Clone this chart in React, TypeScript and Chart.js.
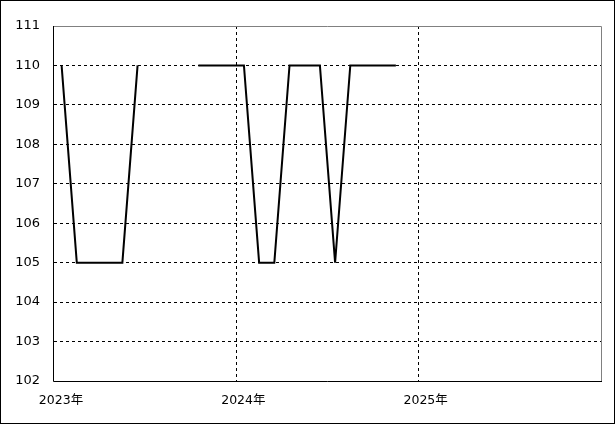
import React, { useEffect, useRef } from "react";
import { Chart, registerables } from "chart.js";

Chart.register(...registerables);

const months = [
  "2023-01", "2023-02", "2023-03", "2023-04", "2023-05", "2023-06",
  "2023-07", "2023-08", "2023-09", "2023-10", "2023-11", "2023-12",
  "2024-01", "2024-02", "2024-03", "2024-04", "2024-05", "2024-06",
  "2024-07", "2024-08", "2024-09", "2024-10", "2024-11",
];
const values: (number | null)[] = [
  110, 105, 105, 105, 105, 110,
  null, null, null, 110, 110, 110,
  110, 105, 105, 110, 110, 110,
  105, 110, 110, 110, 110,
];
const yearLabels = ["2023年", "2024年", "2025年"];
const yTicks = [102, 103, 104, 105, 106, 107, 108, 109, 110, 111];

const FONT = "'DejaVu Sans', 'Noto Sans CJK JP', sans-serif";

function monthIndex(m: string): number {
  const [y, mo] = m.split("-").map(Number);
  return (y - 2023) * 12 + (mo - 1) + 0.5;
}

const framePlugin = {
  id: "frame",
  afterDraw(chart: any) {
    const { ctx, chartArea, width, height } = chart;
    const { left, top, right, bottom } = chartArea;
    ctx.save();
    ctx.lineWidth = 1;
    ctx.setLineDash([]);
    ctx.strokeStyle = "#808080";
    ctx.beginPath();
    ctx.moveTo(left - 1, top + 0.5);
    ctx.lineTo(right + 0.5, top + 0.5);
    ctx.lineTo(right + 0.5, bottom);
    ctx.stroke();
    ctx.strokeStyle = "#000";
    ctx.beginPath();
    ctx.moveTo(left - 0.5, top);
    ctx.lineTo(left - 0.5, bottom + 0.5);
    ctx.lineTo(right + 1, bottom + 0.5);
    ctx.stroke();
    ctx.strokeRect(0.5, 0.5, width - 1, height - 1);
    ctx.restore();
  },
};

export default function App() {
  const ref = useRef<HTMLCanvasElement | null>(null);
  useEffect(() => {
    document.body.style.margin = "0";
    const canvas = ref.current;
    if (!canvas) return;
    const data = months.map((m, i) => ({ x: monthIndex(m), y: values[i] }));
    const chart = new Chart(canvas, {
      type: "line",
      data: {
        datasets: [
          {
            data: data as any,
            borderColor: "#000",
            borderWidth: 2,
            pointRadius: 0,
            spanGaps: false,
            tension: 0,
            fill: false,
          },
        ],
      },
      options: {
        responsive: false,
        animation: false,
        events: [],
        layout: { padding: { left: 0, top: 26, right: 14, bottom: 0 } },
        plugins: { legend: { display: false }, tooltip: { enabled: false } },
        scales: {
          x: {
            type: "linear",
            min: 0,
            max: 36,
            afterFit(scale: any) {
              scale.height = 43;
            },
            afterBuildTicks(scale: any) {
              scale.ticks = [0, 12, 24, 36].map((v) => ({ value: v }));
            },
            ticks: {
              autoSkip: false,
              maxRotation: 0,
              padding: 12,
              labelOffset: 7,
              color: "#000",
              font: { family: FONT, size: 12.5 },
              callback: (v: any) => yearLabels[Math.round(Number(v) / 12)] ?? "",
            },
            grid: {
              drawTicks: false,
              lineWidth: 1,
              color: (c: any) =>
                c.tick && (c.tick.value === 12 || c.tick.value === 24) ? "#000" : "rgba(0,0,0,0)",
            },
            border: { display: false, dash: [3, 3] },
          },
          y: {
            min: 102,
            max: 111,
            afterFit(scale: any) {
              scale.width = 54;
            },
            afterBuildTicks(scale: any) {
              scale.ticks = yTicks.map((v) => ({ value: v }));
            },
            ticks: {
              padding: 14,
              color: "#000",
              font: { family: FONT, size: 13 },
              callback: (v: any) => String(v),
            },
            grid: {
              drawTicks: false,
              lineWidth: 1,
              color: (c: any) =>
                c.tick && c.tick.value > 102 && c.tick.value < 111 ? "#000" : "rgba(0,0,0,0)",
            },
            border: { display: false, dash: [3, 3] },
          },
        },
      },
      plugins: [framePlugin],
    });
    return () => chart.destroy();
  }, []);
  return (
    <div style={{ width: 615, height: 424 }}>
      <canvas ref={ref} width={615} height={424} style={{ display: "block" }} />
    </div>
  );
}
